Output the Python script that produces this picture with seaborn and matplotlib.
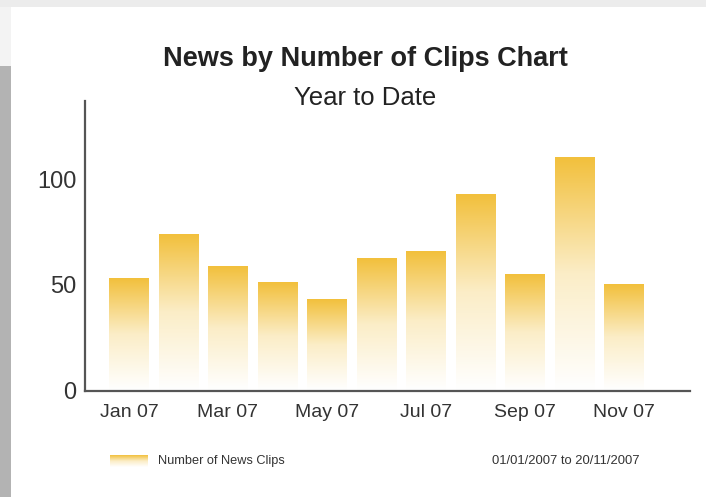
import numpy as np
import pandas as pd
import matplotlib
matplotlib.use("Agg")
import matplotlib.pyplot as plt
from matplotlib.patches import Rectangle
from matplotlib.colors import LinearSegmentedColormap
import seaborn as sns

months = ["Jan 07", "Feb 07", "Mar 07", "Apr 07", "May 07", "Jun 07",
          "Jul 07", "Aug 07", "Sep 07", "Oct 07", "Nov 07"]
clips = [53, 73.5, 58.5, 51, 43, 62, 65.5, 92.5, 54.5, 110, 50]
shown_labels = ["Jan 07", "", "Mar 07", "", "May 07", "", "Jul 07", "",
                "Sep 07", "", "Nov 07"]
y_ticks = [0, 50, 100]
title = "News by Number of Clips Chart"
subtitle = "Year to Date"
legend_label = "Number of News Clips"
date_range = "01/01/2007 to 20/11/2007"

sns.set_theme(style="white")
plt.rcParams['font.family'] = ['Liberation Sans', 'DejaVu Sans']

W, H = 706, 497
fig = plt.figure(figsize=(W / 100, H / 100), dpi=100, facecolor="white")

# page background decorations
fig.patches.append(Rectangle((0, 1 - 7 / H), 1, 7 / H, transform=fig.transFigure,
                             facecolor="#ececec", edgecolor="none", zorder=0))
fig.patches.append(Rectangle((0, 1 - 66 / H), 11 / W, 59 / H, transform=fig.transFigure,
                             facecolor="#f3f3f3", edgecolor="none", zorder=0))
fig.patches.append(Rectangle((0, 0), 11 / W, 1 - 66 / H, transform=fig.transFigure,
                             facecolor="#b3b3b3", edgecolor="none", zorder=0))

ax = fig.add_axes([85 / W, (H - 390.5) / H, (690 - 85) / W, (390.5 - 101) / H])
ax.set_facecolor("none")

df = pd.DataFrame({"month": months, "clips": clips})
sns.barplot(data=df, x="month", y="clips", color="#f2c036", width=0.79,
            saturation=1, ax=ax, zorder=2)

gold = (242 / 255, 192 / 255, 60 / 255)
cmap = LinearSegmentedColormap.from_list(
    "fade", [(1, 1, 1), (0.985, 0.93, 0.78), gold], N=256)
grad = np.linspace(0, 1, 256).reshape(-1, 1)
for p in ax.patches:
    x0, w, h = p.get_x(), p.get_width(), p.get_height()
    p.set_facecolor("none")
    p.set_edgecolor("none")
    p.set_linewidth(0)
    ax.imshow(grad, extent=[x0, x0 + w, 0, h], origin="lower", cmap=cmap,
              aspect="auto", zorder=1, interpolation="bilinear")

ax.set_xlim(-0.89, 11.345)
ax.set_ylim(0, 137)
ax.set_yticks(y_ticks)
ax.set_yticklabels([str(v) for v in y_ticks])
ax.set_xticks(range(len(months)))
ax.set_xticklabels(shown_labels)
ax.set_xlabel("")
ax.set_ylabel("")

for s in ["top", "right"]:
    ax.spines[s].set_visible(False)
for s in ["left", "bottom"]:
    ax.spines[s].set_color("#555555")
    ax.spines[s].set_linewidth(1.6)

ax.tick_params(axis="y", direction="in", length=11, width=1.2, color="#aaaaaa",
               pad=6, labelsize=17, labelcolor="#333333")
ax.tick_params(axis="x", length=0, pad=10, labelsize=14, labelcolor="#333333")
ax.yaxis.get_ticklines()[0].set_visible(False)

fig.text(365 / W, 1 - 59 / H, title, ha="center", va="center",
         fontsize=19.5, fontweight="bold", color="#222222")
fig.text(365 / W, 1 - 98 / H, subtitle, ha="center", va="center",
         fontsize=18.5, color="#222222")

# legend
lax = fig.add_axes([110 / W, 1 - 467 / H, 38 / W, 12 / H])
lax.imshow(grad, origin="lower", cmap=cmap, aspect="auto", extent=[0, 1, 0, 1])
lax.axis("off")
fig.text(158 / W, 1 - 461 / H, legend_label, ha="left", va="center",
         fontsize=9.2, color="#333333")
fig.text(640 / W, 1 - 461 / H, date_range, ha="right", va="center",
         fontsize=9.4, color="#333333")

fig.savefig("out.png", dpi=100, facecolor="white")
